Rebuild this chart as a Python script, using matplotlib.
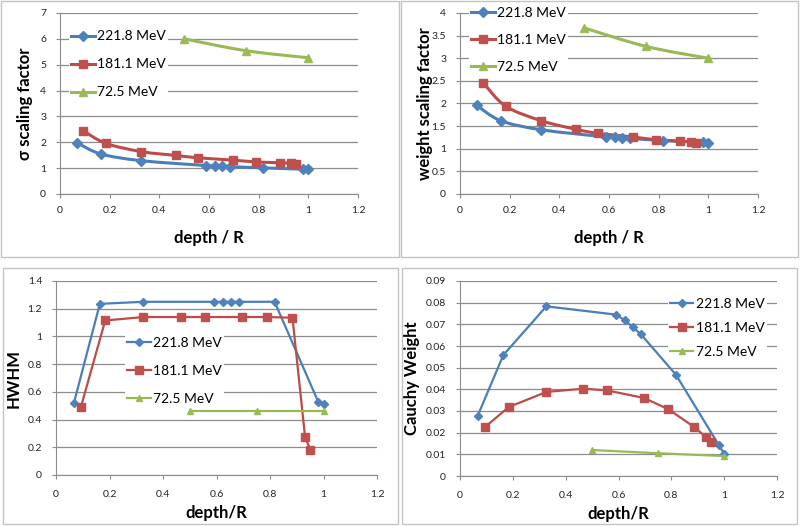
"""
Scaling factors, HWHM and Cauchy weight versus depth/R for three energies
"""
import numpy as np
import matplotlib
matplotlib.use("Agg")
import matplotlib.pyplot as plt
from matplotlib.path import Path
from matplotlib.patches import PathPatch, Rectangle
from matplotlib.lines import Line2D
from matplotlib.ticker import FuncFormatter

plt.rcParams["font.family"] = ["Lato", "DejaVu Sans"]

labels = ["221.8 MeV", "181.1 MeV", "72.5 MeV"]

# depth / R for each energy
x_221 = [0.067, 0.164, 0.327, 0.589, 0.623, 0.653, 0.684, 0.817, 0.98, 1.0]
x_181 = [0.093, 0.184, 0.327, 0.467, 0.557, 0.697, 0.789, 0.884, 0.931, 0.951]
x_72 = [0.5, 0.75, 1.0]

# sigma scaling factor
sig_221 = [1.99, 1.55, 1.29, 1.10, 1.09, 1.08, 1.06, 1.01, 0.96, 0.95]
sig_181 = [2.45, 1.96, 1.64, 1.49, 1.40, 1.31, 1.24, 1.21, 1.19, 1.17]
sig_72 = [6.0, 5.54, 5.27]

# weight scaling factor
w_221 = [1.96, 1.62, 1.42, 1.26, 1.25, 1.24, 1.23, 1.18, 1.14, 1.13]
w_181 = [2.46, 1.94, 1.62, 1.43, 1.34, 1.26, 1.20, 1.17, 1.15, 1.13]
w_72 = [3.67, 3.26, 3.0]

# HWHM
h_221 = [0.52, 1.235, 1.25, 1.25, 1.25, 1.25, 1.25, 1.25, 0.53, 0.51]
h_181 = [0.49, 1.115, 1.14, 1.14, 1.14, 1.14, 1.14, 1.135, 0.275, 0.18]
h_72 = [0.46, 0.46, 0.46]

# Cauchy weight
c_221 = [0.0278, 0.0558, 0.0783, 0.0745, 0.0720, 0.0688, 0.0655, 0.0468, 0.0142, 0.0103]
c_181 = [0.0224, 0.0318, 0.0388, 0.0403, 0.0395, 0.0360, 0.0308, 0.0228, 0.0180, 0.0155]
c_72 = [0.0120, 0.0105, 0.0092]

colors = ["#4A7EBB", "#BE4B48", "#98B954"]
mcolors = ["#4F81BD", "#C0504D", "#9BBB59"]
markers = ["D", "s", "^"]


def smooth_path(x, y):
    "courbe lissee (type Excel) passant par les points"
    p = np.column_stack([x, y]).astype(float)
    n = len(p)
    verts = [p[0]]
    codes = [Path.MOVETO]
    for i in range(n - 1):
        p0 = p[max(i - 1, 0)]
        p1 = p[i]
        p2 = p[i + 1]
        p3 = p[min(i + 2, n - 1)]
        verts += [p1 + (p2 - p0) / 6, p2 - (p3 - p1) / 6, p2]
        codes += [Path.CURVE4] * 3
    return Path(verts, codes)


def fmt(v, pos):
    return "%g" % round(v, 4)


fig = plt.figure(figsize=(8, 5.26), dpi=100)

# panel frames
for (x0, y0, x1, y1) in [(1, 1, 399, 257), (401, 1, 798, 257), (3, 268, 398, 524), (402, 268, 797, 524)]:
    fig.patches.append(Rectangle((x0 / 800, 1 - y1 / 526), (x1 - x0) / 800, (y1 - y0) / 526,
                                 transform=fig.transFigure, fill=False, edgecolor="#c4c4c4", lw=1))


def make_axes(rect, ymax, ystep, ylabel, xlabel, series, smooth, leg_anchor, leg_spacing, lw, ms,
              ylab_x, xlab_y, xpad):
    ax = fig.add_axes(rect)
    for k, (xs, ys) in enumerate(series):
        if smooth:
            ax.add_patch(PathPatch(smooth_path(xs, ys), fill=False, edgecolor=colors[k], lw=lw, zorder=3))
            ax.plot(xs, ys, ls="none", marker=markers[k], color=mcolors[k], ms=ms[k], zorder=4)
        else:
            ax.plot(xs, ys, ls="-", lw=lw, color=colors[k], marker=markers[k], mfc=mcolors[k],
                    mec=mcolors[k], ms=ms[k], zorder=4)
    ax.set_xlim(0, 1.2)
    ax.set_ylim(0, ymax)
    ax.set_xticks(np.arange(0, 1.21, 0.2))
    ax.set_yticks(np.arange(0, ymax + ystep / 2, ystep))
    ax.xaxis.set_major_formatter(FuncFormatter(fmt))
    ax.yaxis.set_major_formatter(FuncFormatter(fmt))
    ax.yaxis.grid(True, color="#8c8c8c", lw=0.9)
    ax.set_axisbelow(True)
    for s in ["top", "right"]:
        ax.spines[s].set_visible(False)
    for s in ["left", "bottom"]:
        ax.spines[s].set_color("#8c8c8c")
    ax.tick_params(labelsize=7.5, length=3, color="#8c8c8c", labelcolor="#222222")
    ax.tick_params(axis="y", pad=7)
    ax.tick_params(axis="x", pad=xpad)
    ax.set_xlabel(xlabel, fontsize=12, fontweight="bold")
    ax.set_ylabel(ylabel, fontsize=12, fontweight="bold")
    ax.xaxis.set_label_coords(0.5, xlab_y)
    ax.yaxis.set_label_coords(ylab_x, 0.5)
    handles = [Line2D([], [], color=colors[k], marker=markers[k], mfc=mcolors[k], mec=mcolors[k],
                      ms=ms[k], lw=lw) for k in range(3)]
    leg = ax.legend(handles, labels, loc="upper left", bbox_to_anchor=leg_anchor, fontsize=10,
                    frameon=True, fancybox=False, edgecolor="none", facecolor="white", framealpha=1,
                    borderpad=0.15, borderaxespad=0, handlelength=1.7, handletextpad=0.2,
                    labelspacing=leg_spacing)
    leg.set_zorder(5)
    return ax


make_axes([60 / 800, 1 - 194 / 526, 298 / 800, 181 / 526], 7, 1, "σ scaling factor", "depth / R",
          [(x_221, sig_221), (x_181, sig_181), (x_72, sig_72)], True, (0.03, 0.915), 1.15, 2.2,
          [5, 6, 6], -0.09, -0.2, 6)
make_axes([460 / 800, 1 - 194 / 526, 298 / 800, 181 / 526], 4, 0.5, "weight scaling factor", "depth / R",
          [(x_221, w_221), (x_181, w_181), (x_72, w_72)], True, (0.03, 1.045), 1.08, 2.2,
          [5, 6, 6], -0.09, -0.2, 6)
make_axes([56 / 800, 1 - 475 / 526, 321 / 800, 194 / 526], 1.4, 0.2, "HWHM", "depth/R",
          [(x_221, h_221), (x_181, h_181), (x_72, h_72)], False, (0.215, 0.722), 1.15, 1.6,
          [4.5, 5.5, 5], -0.108, -0.155, 8)
make_axes([460 / 800, 1 - 476 / 526, 317 / 800, 195 / 526], 0.09, 0.01, "Cauchy Weight", "depth/R",
          [(x_221, c_221), (x_181, c_181), (x_72, c_72)], False, (0.655, 0.923), 0.85, 1.6,
          [4.5, 5.5, 5], -0.126, -0.155, 8)

fig.savefig("out.png", dpi=100)
